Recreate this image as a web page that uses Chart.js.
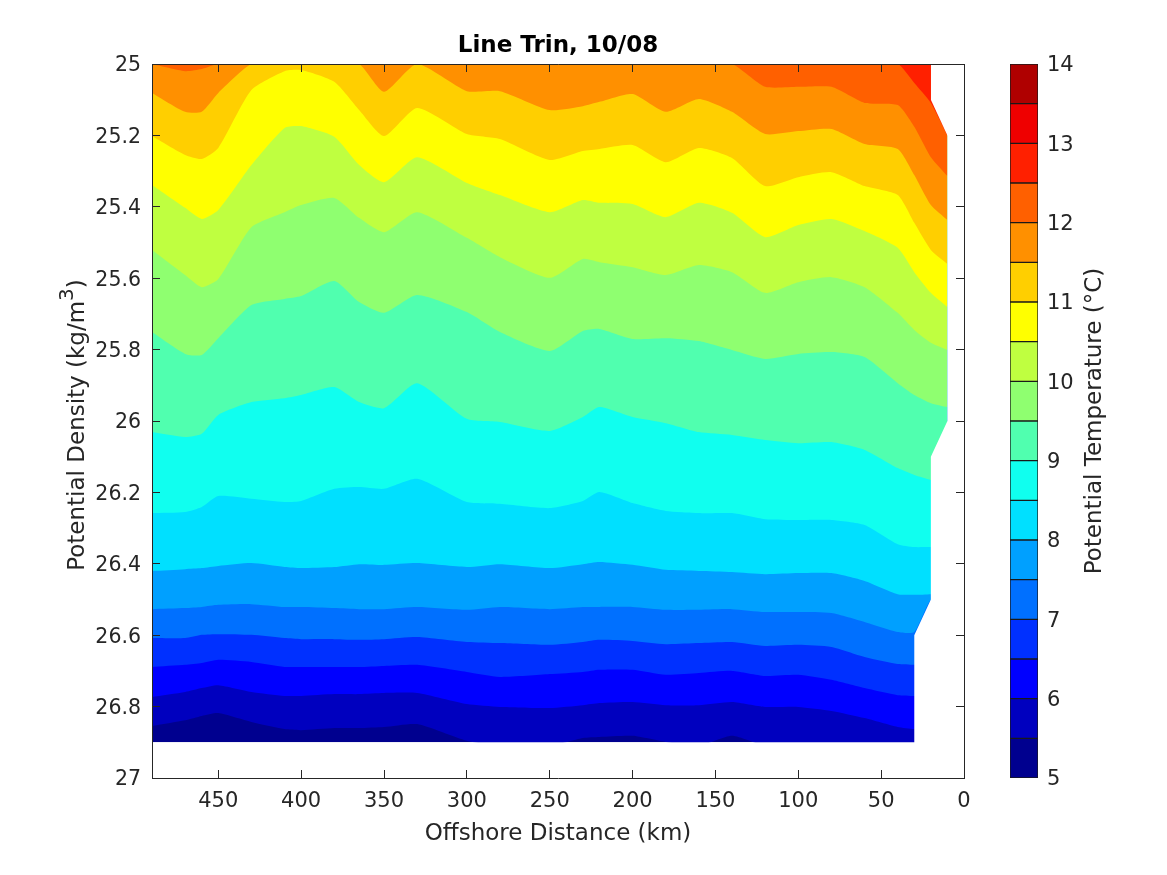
<!DOCTYPE html>
<html>
<head>
<meta charset="utf-8">
<title>Line Trin, 10/08</title>
<script src="https://cdn.jsdelivr.net/npm/chart.js@4"></script>
<style>
  body { margin: 0; background: #fff; }
  #wrap { position: relative; width: 1167px; height: 875px; overflow: hidden; }
  canvas { position: absolute; top: 0; }
  #main { left: 0; }
  #cbar { left: 960px; }
</style>
</head>
<body>
<div id="wrap">
  <canvas id="main" width="1167" height="875"></canvas>
  <canvas id="cbar" width="207" height="875"></canvas>
</div>
<script>
// offshore distance of the columns (km)
const dist = [490,470,460,450,430,410,400,380,365,350,330,300,280,250,230,220,200,180,160,140,120,100,80,60,40,30,20,10];

// density of each isotherm at those columns (kg/m3)
const iso50 = [26.9,26.9,26.9,26.9,26.9,26.9,26.9,26.9,26.9,26.9,26.9,26.9,26.9,26.9,26.9,26.9,26.9,26.9,26.9,26.9,26.9,26.9,26.9,26.9,26.9,26.9,26.9,26.9];
const iso55 = [26.854,26.838,26.826,26.818,26.843,26.863,26.866,26.86,26.86,26.857,26.849,26.896,26.91,26.91,26.888,26.885,26.882,26.899,26.91,26.882,26.91,26.91,26.91,26.91,26.91,26.91,26.91,26.91];
const iso60 = [26.773,26.759,26.748,26.74,26.759,26.77,26.77,26.765,26.765,26.762,26.762,26.793,26.801,26.804,26.796,26.79,26.787,26.796,26.796,26.787,26.801,26.801,26.812,26.832,26.857,26.863,26.863,26.863];
const iso65 = [26.689,26.683,26.678,26.669,26.675,26.689,26.689,26.689,26.689,26.686,26.683,26.703,26.717,26.709,26.703,26.697,26.697,26.711,26.706,26.7,26.714,26.711,26.725,26.748,26.768,26.77,26.77,26.77];
const iso70 = [26.608,26.608,26.599,26.597,26.599,26.608,26.611,26.611,26.613,26.611,26.605,26.619,26.622,26.627,26.619,26.613,26.616,26.625,26.622,26.619,26.63,26.627,26.633,26.661,26.681,26.683,26.683,26.683];
const iso75 = [26.527,26.524,26.521,26.515,26.513,26.521,26.521,26.524,26.527,26.527,26.521,26.529,26.521,26.527,26.521,26.521,26.521,26.529,26.529,26.527,26.535,26.535,26.538,26.563,26.591,26.591,26.501,26.501];
const iso80 = [26.42,26.415,26.412,26.406,26.398,26.409,26.412,26.409,26.401,26.403,26.398,26.409,26.401,26.412,26.401,26.395,26.403,26.417,26.42,26.423,26.429,26.426,26.426,26.448,26.485,26.487,26.485,26.485];
const iso85 = [26.258,26.255,26.241,26.21,26.218,26.227,26.224,26.19,26.185,26.19,26.162,26.227,26.232,26.244,26.224,26.199,26.23,26.252,26.258,26.258,26.275,26.277,26.277,26.291,26.345,26.353,26.353,26.356];
const iso90 = [26.031,26.045,26.036,25.983,25.947,25.936,25.927,25.905,25.947,25.964,25.894,25.994,26.003,26.028,25.989,25.961,25.989,26.006,26.031,26.039,26.053,26.062,26.059,26.081,26.132,26.151,26.165,26.179];
const iso95 = [25.751,25.812,25.815,25.768,25.675,25.658,25.65,25.608,25.667,25.697,25.647,25.695,25.751,25.804,25.748,25.742,25.77,25.768,25.776,25.801,25.826,25.812,25.807,25.821,25.894,25.927,25.95,25.961];
const iso100 = [25.521,25.591,25.625,25.602,25.457,25.415,25.395,25.375,25.431,25.471,25.415,25.487,25.541,25.599,25.546,25.555,25.569,25.591,25.563,25.583,25.641,25.611,25.597,25.625,25.697,25.745,25.781,25.801];
const iso105 = [25.339,25.403,25.434,25.409,25.283,25.179,25.174,25.204,25.283,25.331,25.261,25.333,25.367,25.415,25.381,25.389,25.392,25.429,25.389,25.417,25.485,25.451,25.434,25.468,25.515,25.583,25.641,25.681];
const iso110 = [25.202,25.255,25.266,25.235,25.073,25.02,25.017,25.05,25.129,25.202,25.123,25.196,25.21,25.269,25.244,25.238,25.227,25.275,25.235,25.263,25.342,25.317,25.303,25.342,25.367,25.445,25.521,25.56];
const iso115 = [25.081,25.134,25.134,25.081,25,25,25,25,25,25.078,25,25.076,25.076,25.129,25.118,25.106,25.084,25.134,25.098,25.134,25.196,25.188,25.182,25.224,25.238,25.311,25.395,25.437];
const iso120 = [25,25.02,25.014,25,25,25,25,25,25,25,25,25,25,25,25,25,25,25,25,25,25.064,25.064,25.064,25.109,25.115,25.176,25.261,25.314];
const iso125 = [25,25,25,25,25,25,25,25,25,25,25,25,25,25,25,25,25,25,25,25,25,25,25,25,25,25.053,25.109,25.2];

// edge of the sampled section, white beyond it
const edgeLowDist = [490,30,30,20,20,10,10,0];
const edgeLowDens = [26.9,26.9,26.6,26.5,26.1,26,25,25];
const edgeTopDist = [20,10,0];
const edgeTopDens = [25.1,25.2,25.2];

const bandColors = ["#00008f","#0000bf","#0000ff","#0030ff","#0070ff","#00a0ff","#00e0ff","#10ffef","#50ffaf","#8fff70","#bfff40","#ffff00","#ffcf00","#ff9000","#ff6000","#ff2000","#ef0000","#af0000"];
const levels = [5,5.5,6,6.5,7,7.5,8,8.5,9,9.5,10,10.5,11,11.5,12,12.5,13,13.5,14];

const xTicks = [0,50,100,150,200,250,300,350,400,450];
const yTicks = [25,25.2,25.4,25.6,25.8,26,26.2,26.4,26.6,26.8,27];
const cbarTicks = [5,6,7,8,9,10,11,12,13,14];

const isotherms = [iso50,iso55,iso60,iso65,iso70,iso75,iso80,iso85,iso90,iso95,iso100,iso105,iso110,iso115,iso120,iso125];

const FONT = "'DejaVu Sans'";
const INK = "#262626";

function edgeSet(xs, ys, value) {
  return {
    data: xs.map((x, i) => ({x: x, y: ys[i]})),
    fill: {value: value},
    backgroundColor: "#fff",
    borderWidth: 0,
    pointRadius: 0,
    tension: 0
  };
}

// first dataset is painted last, so: edges, then warm to cold
const datasets = [edgeSet(edgeLowDist, edgeLowDens, 27), edgeSet(edgeTopDist, edgeTopDens, 25)];
for (let k = isotherms.length - 1; k >= 0; k--) {
  datasets.push({
    data: dist.map((x, i) => ({x: x, y: isotherms[k][i]})),
    fill: {value: 25},
    backgroundColor: bandColors[k],
    borderWidth: 0,
    pointRadius: 0,
    tension: 0.2
  });
}

function frameAxis(position, size, tickList, extra) {
  const horizontal = position === "top" || position === "bottom";
  return Object.assign({
    type: "linear",
    position: position,
    reverse: true,
    min: horizontal ? 0 : 25,
    max: horizontal ? 490 : 27,
    afterBuildTicks: s => { s.ticks = tickList.map(v => ({value: v})); },
    afterFit: s => { if (horizontal) s.height = size; else s.width = size; },
    grid: {drawOnChartArea: false, tickLength: -8, tickColor: INK, tickWidth: 1, z: 1},
    border: {display: true, color: INK, width: 1, z: 1}
  }, extra);
}

// vertical axis label with the raised 3
const densityLabel = {
  id: "densityLabel",
  afterDraw(chart) {
    const ctx = chart.ctx;
    const parts = [["Potential Density (kg/m", 23, 0], ["3", 20, -11], [")", 23, 0]];
    ctx.save();
    ctx.translate(84, 425);
    ctx.rotate(-Math.PI / 2);
    ctx.fillStyle = INK;
    ctx.textBaseline = "alphabetic";
    ctx.textAlign = "left";
    let total = 0;
    parts.forEach(p => { ctx.font = p[1] + "px " + FONT; total += ctx.measureText(p[0]).width; });
    let at = -total / 2;
    parts.forEach(p => {
      ctx.font = p[1] + "px " + FONT;
      ctx.fillText(p[0], at, p[2]);
      at += ctx.measureText(p[0]).width;
    });
    ctx.restore();
  }
};

new Chart(document.getElementById("main"), {
  type: "line",
  data: {datasets: datasets},
  options: {
    responsive: false,
    animation: false,
    plugins: {
      legend: {display: false},
      tooltip: {enabled: false},
      title: {
        display: true,
        text: "Line Trin, 10/08",
        fullSize: false,
        color: "#000",
        font: {family: FONT, size: 23, weight: "bold"},
        padding: {top: 32, bottom: 4.4}
      }
    },
    scales: {
      x: frameAxis("bottom", 97, xTicks, {
        ticks: {font: {family: FONT, size: 21}, color: INK, padding: 19, maxRotation: 0, autoSkip: false},
        title: {display: true, text: "Offshore Distance (km)", color: INK, font: {family: FONT, size: 23}, padding: {top: 0, bottom: 27}}
      }),
      y: frameAxis("left", 152, yTicks, {
        ticks: {font: {family: FONT, size: 20.5}, color: INK, padding: 19, labelOffset: 2, autoSkip: false, callback: v => String(v)}
      }),
      xTop: frameAxis("top", 0, xTicks, {ticks: {display: false}}),
      yRight: frameAxis("right", 203, yTicks, {ticks: {display: false}})
    }
  },
  plugins: [densityLabel]
});

// colorbar, one floating bar per band
const cbarLabel = {
  id: "cbarLabel",
  afterDraw(chart) {
    const ctx = chart.ctx;
    ctx.save();
    ctx.translate(135, 421);
    ctx.rotate(-Math.PI / 2);
    ctx.font = "23px " + FONT;
    ctx.fillStyle = INK;
    ctx.textAlign = "center";
    ctx.textBaseline = "middle";
    ctx.fillText("Potential Temperature (°C)", 0, 0);
    ctx.restore();
  }
};

new Chart(document.getElementById("cbar"), {
  type: "bar",
  data: {
    labels: [""],
    datasets: bandColors.map((c, i) => ({
      data: [[levels[i], levels[i + 1]]],
      backgroundColor: c,
      borderColor: "#1a1a1a",
      borderWidth: 1,
      borderSkipped: false,
      barPercentage: 1,
      categoryPercentage: 1,
      grouped: false
    }))
  },
  options: {
    responsive: false,
    animation: false,
    layout: {padding: {left: 50, top: 64, bottom: 97}},
    plugins: {legend: {display: false}, tooltip: {enabled: false}},
    scales: {
      x: {display: false},
      y: {
        position: "right",
        min: 5,
        max: 14,
        afterBuildTicks: s => { s.ticks = cbarTicks.map(v => ({value: v})); },
        afterFit: s => { s.width = 129; },
        grid: {display: false, drawTicks: false},
        border: {display: false},
        ticks: {font: {family: FONT, size: 21}, color: INK, padding: 9, labelOffset: 2, autoSkip: false}
      }
    }
  },
  plugins: [cbarLabel]
});
</script>
</body>
</html>
